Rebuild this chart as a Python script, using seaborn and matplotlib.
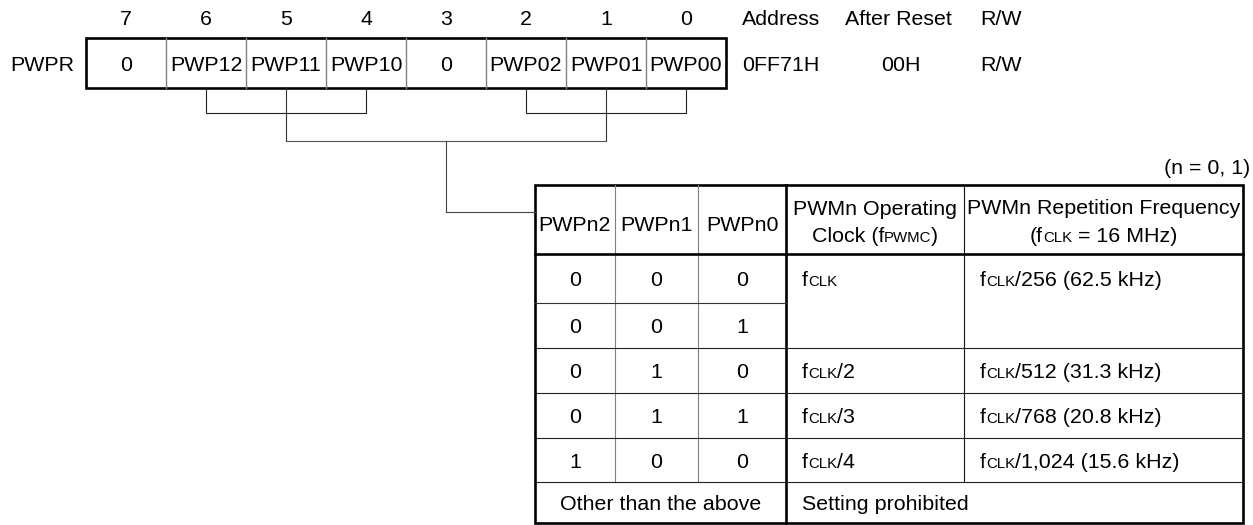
import matplotlib
matplotlib.use("Agg")
import matplotlib.pyplot as plt
import seaborn as sns

sns.set_theme(style="white")
plt.rcParams['font.family'] = ['Liberation Sans', 'DejaVu Sans']

# register data
register_name = "PWPR"
bit_numbers = [7, 6, 5, 4, 3, 2, 1, 0]
bit_names = ["0", "PWP12", "PWP11", "PWP10", "0", "PWP02", "PWP01", "PWP00"]
info_heads = ["Address", "After Reset", "R/W"]
info_values = ["0FF71H", "00H", "R/W"]
n_note = "(n = 0, 1)"

# setting table data
table_heads = ["PWPn2", "PWPn1", "PWPn0"]
pwpn2 = [0, 0, 0, 0, 1]
pwpn1 = [0, 0, 1, 1, 0]
pwpn0 = [0, 1, 0, 1, 0]
clock_div = ["", None, "/2", "/3", "/4"]          # None = merged with row above
rep_freq = ["/256 (62.5 kHz)", None, "/512 (31.3 kHz)", "/768 (20.8 kHz)", "/1,024 (15.6 kHz)"]
other_label = "Other than the above"
prohibited = "Setting prohibited"

# layout (pixels)
W, H = 1253, 525
FS, SUB = 15.4, 10.8
half_cap = 7.7
reg_x0, reg_cw, reg_top, reg_bot = 86, 80, 38, 88
col_x = [535, 615, 698, 786, 964, 1243]
row_y = [185, 254, 303, 348, 393, 438, 482, 523]
THICK, THIN = 1.9, 0.8
GRAY = "#808080"

fig = plt.figure(figsize=(W / 100, H / 100), dpi=100)
ax = fig.add_axes([0, 0, 1, 1])
ax.set_xlim(0, W)
ax.set_ylim(H, 0)
ax.axis("off")
renderer = fig.canvas.get_renderer()


def line(xs, ys, lw=THIN, color="#111111"):
    ax.plot(xs, ys, color=color, lw=lw, solid_capstyle="projecting")


def rich(x, yc, parts, ha="left"):
    # parts: list of (text, fontsize), drawn on one baseline
    y = yc + half_cap
    texts = [ax.text(0, y, s, fontsize=f, va="baseline", ha="left", color="black")
             for s, f in parts]
    widths = [t.get_window_extent(renderer).width for t in texts]
    if ha == "center":
        start = x - sum(widths) / 2
    elif ha == "right":
        start = x - sum(widths)
    else:
        start = x
    for t, w in zip(texts, widths):
        t.set_x(start)
        start += w


def txt(x, yc, s, ha="center"):
    rich(x, yc, [(s, FS)], ha=ha)


def fclk(rest):
    return [("f", FS), ("CLK", SUB), (rest, FS)]


# register row
cx = [reg_x0 + reg_cw * (i + 0.5) for i in range(len(bit_names))]
reg_mid = (reg_top + reg_bot) / 2
for x, b, name in zip(cx, bit_numbers, bit_names):
    txt(x, 17, str(b))
    txt(x, reg_mid, name)
for i in range(1, len(bit_names)):
    xe = reg_x0 + reg_cw * i
    line([xe, xe], [reg_top, reg_bot], lw=1.0, color=GRAY)
reg_x1 = reg_x0 + reg_cw * len(bit_names)
ax.add_patch(plt.Rectangle((reg_x0, reg_top), reg_x1 - reg_x0, reg_bot - reg_top,
                           fill=False, lw=THICK, ec="black"))
txt(10, reg_mid, register_name, ha="left")

txt(742, 17, info_heads[0], ha="left")
txt(742, reg_mid, info_values[0], ha="left")
txt(898, 17, info_heads[1])
txt(901, reg_mid, info_values[1])
txt(980, 17, info_heads[2], ha="left")
txt(980, reg_mid, info_values[2], ha="left")

# brackets
y1, y2, y3 = 113, 141, 212
for a, m, b in [(1, 2, 3), (5, 6, 7)]:
    line([cx[a], cx[a], cx[b], cx[b]], [reg_bot, y1, y1, reg_bot], color="#222222")
    line([cx[m], cx[m]], [reg_bot, y2], color="#333333")
line([cx[2], cx[6]], [y2, y2], color="#555555")
line([cx[4], cx[4], col_x[0]], [y2, y3, y3], color="#444444")

# table grid
x0, x1 = col_x[0], col_x[-1]
for xe in col_x[1:3]:
    line([xe, xe], [row_y[0], row_y[-2]], color=GRAY)
line([col_x[4], col_x[4]], [row_y[0], row_y[-2]])
line([col_x[3], col_x[3]], [row_y[0], row_y[-1]], lw=THICK, color="black")
line([x0, x1], [row_y[1], row_y[1]], lw=THICK, color="black")
line([x0, col_x[3]], [row_y[2], row_y[2]], color="#333333")
for ye in row_y[3:-1]:
    line([x0, x1], [ye, ye], color="#222222")
ax.add_patch(plt.Rectangle((x0, row_y[0]), x1 - x0, row_y[-1] - row_y[0],
                           fill=False, lw=THICK, ec="black"))

txt(1250, 166, n_note, ha="right")

# header
hc = (row_y[0] + row_y[1]) / 2
for i, h in enumerate(table_heads):
    txt((col_x[i] + col_x[i + 1]) / 2, hc + 4, h)
c4 = (col_x[3] + col_x[4]) / 2
c5 = (col_x[4] + col_x[5]) / 2
txt(c4, 207, "PWMn Operating")
rich(c4, 234, [("Clock (f", FS), ("PWMC", SUB), (")", FS)], ha="center")
txt(c5, 206, "PWMn Repetition Frequency")
rich(c5, 234, [("(f", FS), ("CLK", SUB), (" = 16 MHz)", FS)], ha="center")

# body rows
for r in range(len(pwpn2)):
    yc = (row_y[r + 1] + row_y[r + 2]) / 2
    for i, v in enumerate([pwpn2[r], pwpn1[r], pwpn0[r]]):
        txt((col_x[i] + col_x[i + 1]) / 2, yc, str(v))
    if clock_div[r] is not None:
        rich(col_x[3] + 16, yc, fclk(clock_div[r]))
    if rep_freq[r] is not None:
        rich(col_x[4] + 16, yc, fclk(rep_freq[r]))

yl = (row_y[-2] + row_y[-1]) / 2
txt((col_x[0] + col_x[3]) / 2, yl, other_label)
txt(col_x[3] + 16, yl, prohibited, ha="left")

fig.savefig("out.png", dpi=100)
